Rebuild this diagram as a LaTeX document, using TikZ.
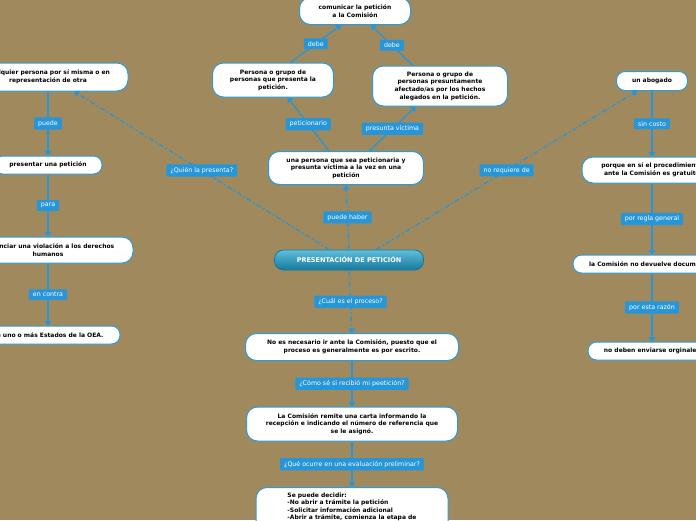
\documentclass[tikz,border=0pt]{standalone}
\usepackage{fontspec}
\setmainfont{DejaVu Sans}
\usetikzlibrary{arrows.meta,positioning}
\definecolor{mapbg}{RGB}{160,137,92}
\definecolor{linkblue}{RGB}{38,150,216}
\definecolor{boxblue}{RGB}{45,155,215}
\definecolor{maintop}{RGB}{95,190,218}
\definecolor{mainbot}{RGB}{22,120,156}

\begin{document}
\begin{tikzpicture}[x=1pt, y=-1pt,
  box/.style={draw=boxblue, fill=white, line width=1pt, rounded corners=11pt,
              font=\fontsize{6}{7.6}\selectfont\bfseries, align=center, inner sep=2pt},
  small/.style={box, rounded corners=8.5pt, minimum height=18pt},
  main/.style={draw=mainbot, top color=maintop, bottom color=mainbot, text=white,
               font=\fontsize{6.5}{8}\selectfont\bfseries, rounded corners=9pt,
               minimum width=149pt, minimum height=20pt, line width=0.8pt},
  lbl/.style={fill=linkblue, text=white, font=\fontsize{6.3}{7.5}\selectfont,
              inner xsep=4pt, inner ysep=3pt, rounded corners=0.8pt},
  conn/.style={draw=linkblue, line width=1.3pt, -{Triangle[length=4.5pt,width=7pt]}},
  dconn/.style={conn, dash pattern=on 5pt off 2.5pt on 1.5pt off 2.5pt}
]
\useasboundingbox (0,0) rectangle (696,520);
\fill[mapbg] (0,0) rectangle (696,520);
\clip (0,0) rectangle (696,520);

\node[main] (pres) at (349,260) {PRESENTACIÓN DE PETICIÓN};
\node[box, minimum width=155pt, minimum height=33pt] (ambas) at (346,168)
  {una persona que sea peticionaria y\\presunta víctima a la vez en una\\petición};
\node[box, minimum width=121pt, minimum height=34pt] (petic) at (273,80)
  {Persona o grupo de\\personas que presenta la\\petición.};
\node[box, minimum width=135pt, minimum height=40pt] (victima) at (440,86)
  {Persona o grupo de\\personas presuntamente\\afectado/as por los hechos\\alegados en la petición.};
\node[box, minimum width=111pt, minimum height=27pt] (comunicar) at (355,11)
  {comunicar la petición\\a la Comisión};

\node[box, minimum width=160pt, minimum height=28pt] (cualq) at (48,77)
  {Cualquier persona por sí misma o en\\representación de otra};
\node[small, minimum width=108pt] (prespet) at (48,165) {presentar una petición};
\node[box, minimum width=170pt, minimum height=26pt] (denun) at (48,250)
  {Denunciar una violación a los derechos\\humanos};
\node[small, minimum width=144pt] (estados) at (48,335) {de uno o más Estados de la OEA.};

\node[small, minimum width=71pt, minimum height=19pt] (abog) at (652,81) {un abogado};
\node[box, minimum width=140pt, minimum height=26pt] (gratis) at (652,170)
  {porque en sí el procedimiento\\ante la Comisión es gratuito};
\node[small, minimum width=158pt] (devuelve) at (652,264) {la Comisión no devuelve documentos};
\node[small, minimum width=128pt] (orig) at (652,351) {no deben enviarse orginales};

\node[box, minimum width=213pt, minimum height=27pt] (noesnec) at (352,347)
  {No es necesario ir ante la Comisión, puesto que el\\proceso es generalmente es por escrito.};
\node[box, minimum width=211pt, minimum height=34pt] (remite) at (352,424)
  {La Comisión remite una carta informando la\\recepción e indicando el número de referencia que\\se le asignó.};
\node[box, anchor=north, minimum width=192pt, align=left, inner ysep=5pt] (decidir) at (352,487)
  {Se puede decidir:\\-No abrir a trámite la petición\\-Solicitar información adicional\\-Abrir a trámite, comienza la etapa de\\admisibilidad.};

\draw[dconn] (pres.north) -- node[lbl]{puede haber} (ambas.south);
\draw[conn] (ambas.135) -- node[lbl]{peticionario} (petic.-50);
\draw[conn] (ambas.36) -- node[lbl]{presunta víctima} (victima.-140);
\draw[conn] (petic.45) -- node[lbl]{debe} (comunicar.-135);
\draw[conn] (victima.143) -- node[lbl]{debe} (comunicar.-41);
\draw[dconn] (pres.152) -- node[lbl]{¿Quién la presenta?} (cualq.-29);
\draw[dconn] (pres.21) -- node[lbl]{no requiere de} (abog.-146);
\draw[dconn] (pres.south) -- node[lbl]{¿Cuál es el proceso?} (noesnec.north);
\draw[conn] (noesnec) -- node[lbl]{¿Cómo sé si recibió mi peetición?} (remite);
\draw[conn] (remite) -- node[lbl]{¿Qué ocurre en una evaluación preliminar?} (decidir);

\draw[conn] (cualq) -- node[lbl]{puede} (prespet);
\draw[conn] (prespet) -- node[lbl]{para} (denun);
\draw[conn] (denun) -- node[lbl]{en contra} (estados);

\draw[conn] (abog) -- node[lbl]{sin costo} (gratis);
\draw[conn] (gratis) -- node[lbl]{por regla general} (devuelve);
\draw[conn] (devuelve) -- node[lbl]{por esta razón} (orig);
\end{tikzpicture}
\end{document}
